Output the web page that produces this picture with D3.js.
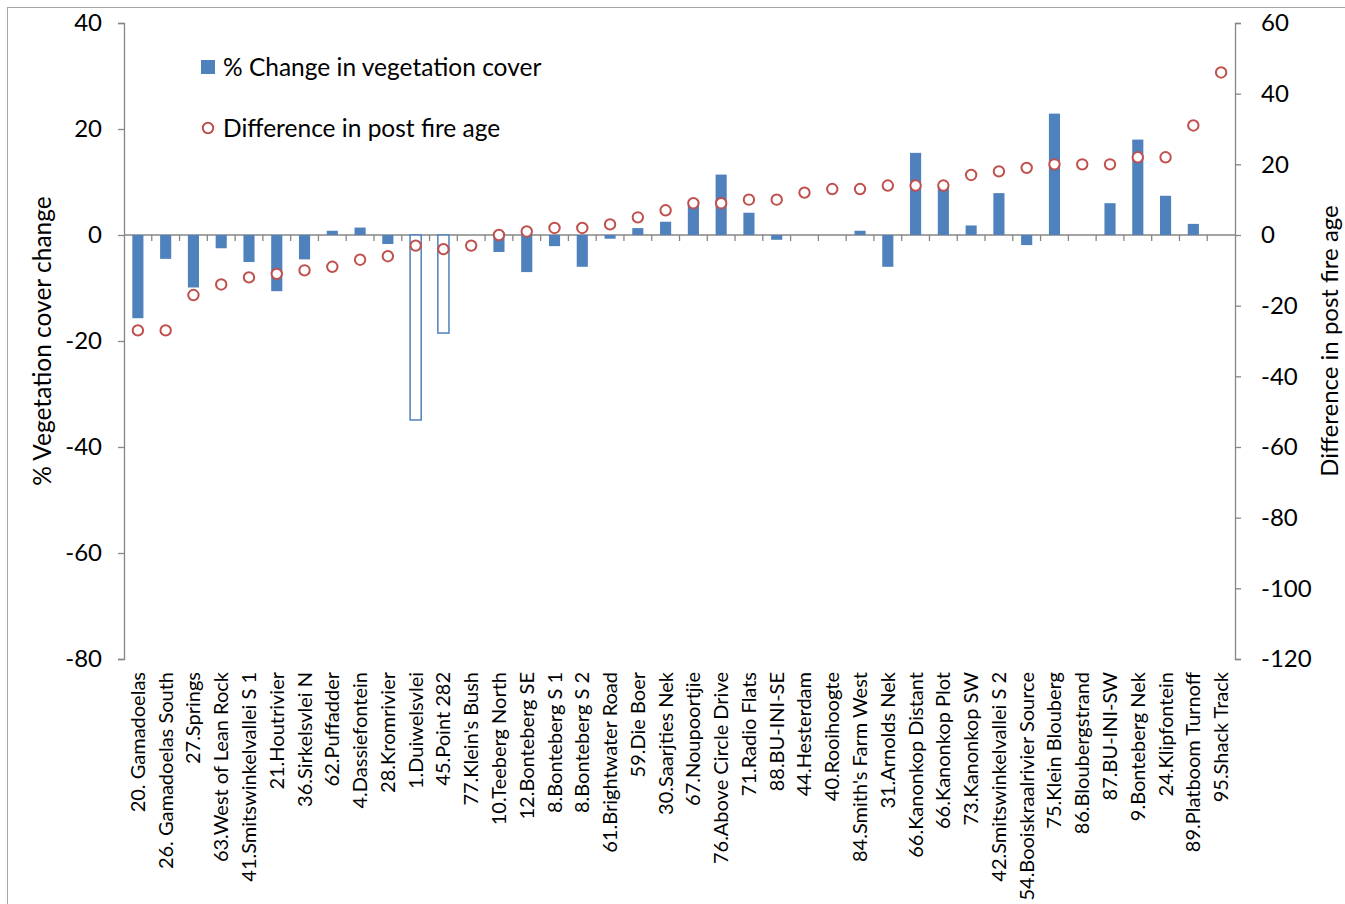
<!DOCTYPE html>
<html>
<head>
<meta charset="utf-8">
<script src="https://cdn.jsdelivr.net/npm/d3@7"></script>
<style>
  html, body { margin: 0; padding: 0; background: #fff; }
  svg { display: block; font-family: Lato, "Open Sans", sans-serif; }
</style>
</head>
<body>
<svg id="chart" width="1345" height="904"></svg>
<script>
const categories = [
  "20. Gamadoelas", "26. Gamadoelas South", "27.Springs", "63.West of Lean Rock",
  "41.Smitswinkelvallei S 1", "21.Houtrivier", "36.Sirkelsvlei N", "62.Puffadder",
  "4.Dassiefontein", "28.Kromrivier", "1.Duiwelsvlei", "45.Point 282",
  "77.Klein's Bush", "10.Teeberg North", "12.Bonteberg SE", "8.Bonteberg S 1",
  "8.Bonteberg S 2", "61.Brightwater Road", "59.Die Boer", "30.Saarjties Nek",
  "67.Noupoortjie", "76.Above Circle Drive", "71.Radio Flats", "88.BU-INI-SE",
  "44.Hesterdam", "40.Rooihoogte", "84.Smith's Farm West", "31.Arnolds Nek",
  "66.Kanonkop Distant", "66.Kanonkop Plot", "73.Kanonkop SW", "42.Smitswinkelvallei S 2",
  "54.Booiskraalrivier Source", "75.Klein Blouberg", "86.Bloubergstrand", "87.BU-INI-SW",
  "9.Bonteberg Nek", "24.Klipfontein", "89.Platboom Turnoff", "95.Shack Track"
];
// % change in vegetation cover (left axis)
const vegChange = [
  -15.7, -4.5, -9.9, -2.5, -5.1, -10.6, -4.6, 0.8, 1.4, -1.7,
  -34.9, -18.5, 0, -3.2, -7.0, -2.1, -6.0, -0.7, 1.3, 2.5,
  5.7, 11.4, 4.2, -0.9, 0, 0, 0.8, -6.0, 15.5, 9.1,
  1.8, 7.9, -1.9, 22.9, 0, 6.0, 18.0, 7.4, 2.1, 0
];
// bars drawn hollow (outlined only)
const hollowBars = ["1.Duiwelsvlei", "45.Point 282"];
// difference in post fire age (right axis)
const fireAgeDiff = [
  -27, -27, -17, -14, -12, -11, -10, -9, -7, -6,
  -3, -4, -3, 0, 1, 2, 2, 3, 5, 7,
  9, 9, 10, 10, 12, 13, 13, 14, 14, 14,
  17, 18, 19, 20, 20, 20, 22, 22, 31, 46
];
const leftTicks = [40, 20, 0, -20, -40, -60, -80];
const rightTicks = [60, 40, 20, 0, -20, -40, -60, -80, -100, -120];
const seriesNames = ["% Change in vegetation cover", "Difference in post fire age"];
const axisTitles = ["% Vegetation cover change", "Difference in post fire age"];

const barColor = "#4F81BD", dotColor = "#C0504D", axisColor = "#868686";
const L = 124, R = 1235, T = 23, B = 659;

const svg = d3.select("#chart");

// outer chart border
svg.append("rect").attr("x", 7.5).attr("y", 7.5).attr("width", 1400).attr("height", 1000)
  .attr("fill", "none").attr("stroke", "#a6a6a6").attr("stroke-width", 1);

const x = d3.scaleBand().domain(categories).range([L, R]).paddingInner(0.6).paddingOuter(0.3);
const xb = d3.scaleBand().domain(categories).range([L, R]);
const yL = d3.scaleLinear().domain([-80, 40]).range([B, T]);
const yR = d3.scaleLinear().domain([-120, 60]).range([B, T]);
const fmt = d => String(d);

// left axis
const gL = svg.append("g").attr("transform", `translate(${L},0)`)
  .call(d3.axisLeft(yL).tickValues(leftTicks).tickSize(6).tickPadding(16).tickFormat(fmt));
gL.selectAll("path, line").attr("stroke", axisColor).attr("stroke-width", 1.3);
gL.selectAll("text").attr("font-size", 24).attr("fill", "#000").attr("font-family", "Lato");

// right axis
const gR = svg.append("g").attr("transform", `translate(${R},0)`)
  .call(d3.axisRight(yR).tickValues(rightTicks).tickSize(6).tickPadding(20).tickFormat(fmt));
gR.selectAll("path, line").attr("stroke", axisColor).attr("stroke-width", 1.3);
gR.selectAll("text").attr("font-size", 24).attr("fill", "#000").attr("font-family", "Lato");

// category axis at zero
const gX = svg.append("g").attr("transform", `translate(0,${yL(0)})`);
gX.append("line").attr("x1", L).attr("x2", R).attr("stroke", axisColor).attr("stroke-width", 1.3);
gX.selectAll("line.tick").data(categories.slice(1)).enter().append("line")
  .attr("class", "tick")
  .attr("x1", d => xb(d)).attr("x2", d => xb(d)).attr("y1", 0).attr("y2", 6)
  .attr("stroke", axisColor).attr("stroke-width", 1.3);

// bars
svg.append("g").selectAll("rect").data(categories).enter().append("rect")
  .attr("x", d => x(d))
  .attr("width", x.bandwidth())
  .attr("y", (d, i) => Math.min(yL(vegChange[i]), yL(0)))
  .attr("height", (d, i) => Math.abs(yL(vegChange[i]) - yL(0)))
  .attr("fill", d => hollowBars.includes(d) ? "#fff" : barColor)
  .attr("stroke", d => hollowBars.includes(d) ? barColor : "none")
  .attr("stroke-width", 1.5)
  .style("display", (d, i) => vegChange[i] === 0 ? "none" : null);

// points
svg.append("g").selectAll("circle").data(categories).enter().append("circle")
  .attr("cx", d => xb(d) + xb.bandwidth() / 2)
  .attr("cy", (d, i) => yR(fireAgeDiff[i]))
  .attr("r", 5.2)
  .attr("fill", "#fff").attr("stroke", dotColor).attr("stroke-width", 2);

// x labels
svg.append("g").selectAll("text").data(categories).enter().append("text")
  .attr("transform", d => `translate(${xb(d) + xb.bandwidth() / 2},672) rotate(-90)`)
  .attr("text-anchor", "end").attr("dy", "0.35em")
  .attr("font-size", 20).attr("fill", "#000")
  .text(d => d);

// axis titles
svg.append("text")
  .attr("transform", `translate(42,${(T + B) / 2}) rotate(-90)`)
  .attr("text-anchor", "middle").attr("dy", "0.35em")
  .attr("font-size", 24.5).attr("fill", "#000").text(axisTitles[0]);
svg.append("text")
  .attr("transform", `translate(1330,${(T + B) / 2}) rotate(-90)`)
  .attr("text-anchor", "middle").attr("dy", "0.35em")
  .attr("font-size", 24).attr("fill", "#000").text(axisTitles[1]);

// legend
const leg = svg.append("g");
leg.append("rect").attr("x", 201).attr("y", 60).attr("width", 14).attr("height", 14).attr("fill", barColor);
leg.append("text").attr("x", 223).attr("y", 67).attr("dy", "0.35em")
  .attr("font-size", 24.5).attr("fill", "#000").text(seriesNames[0]);
leg.append("circle").attr("cx", 208).attr("cy", 128).attr("r", 5.2)
  .attr("fill", "#fff").attr("stroke", dotColor).attr("stroke-width", 2);
leg.append("text").attr("x", 223).attr("y", 128).attr("dy", "0.35em")
  .attr("font-size", 24.5).attr("fill", "#000").text(seriesNames[1]);
</script>
</body>
</html>
